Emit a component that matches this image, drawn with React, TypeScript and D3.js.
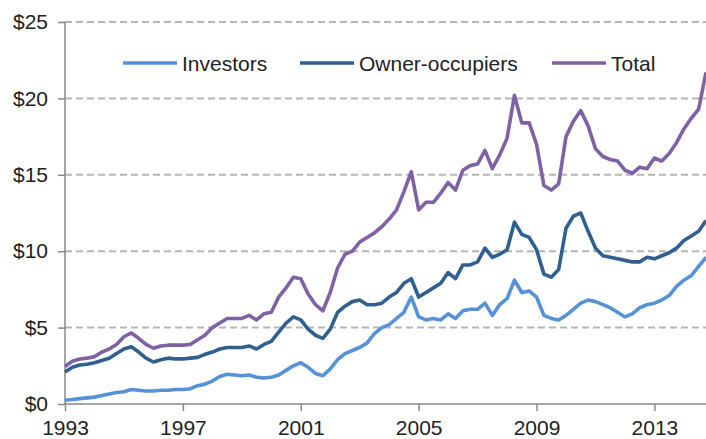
import React, { useEffect, useRef } from "react";
import * as d3 from "d3";

// quarterly, 1993 Q1 .. 2014 Q4 (values in $ billions)
const quarters: number[] = d3.range(88).map(i => 1993 + i / 4);

const investors: number[] = [
  0.25, 0.3, 0.35, 0.4,
  0.45, 0.55, 0.65, 0.75,
  0.8, 0.95, 0.9, 0.85,
  0.85, 0.9, 0.9, 0.95,
  0.95, 1.0, 1.2, 1.3,
  1.5, 1.8, 1.95, 1.9,
  1.85, 1.9, 1.75, 1.7,
  1.75, 1.9, 2.2, 2.5,
  2.7, 2.4, 2.0, 1.85,
  2.3, 2.9, 3.3, 3.5,
  3.7, 4.0, 4.6, 5.0,
  5.2, 5.6, 6.0, 7.0,
  5.7, 5.5, 5.6, 5.5,
  5.9, 5.6, 6.1, 6.2,
  6.2, 6.6, 5.8, 6.5,
  6.9, 8.1, 7.3, 7.4,
  7.0, 5.8, 5.6, 5.5,
  5.8, 6.2, 6.6, 6.8,
  6.7, 6.5, 6.3, 6.0,
  5.7, 5.9, 6.3, 6.5,
  6.6, 6.8, 7.1, 7.7,
  8.1, 8.4, 9.0, 9.6,
];

const ownerOccupiers: number[] = [
  2.1, 2.4, 2.55, 2.6,
  2.7, 2.85, 3.0, 3.3,
  3.6, 3.75, 3.4, 3.0,
  2.75, 2.9, 3.0, 2.95,
  2.95, 3.0, 3.05, 3.25,
  3.4, 3.6, 3.7, 3.7,
  3.7, 3.8, 3.6, 3.9,
  4.1, 4.7, 5.3, 5.7,
  5.5, 4.9, 4.5, 4.3,
  4.9, 6.0, 6.4, 6.7,
  6.8, 6.5, 6.5, 6.6,
  7.0, 7.3, 7.9, 8.2,
  7.0, 7.3, 7.6, 7.9,
  8.6, 8.2, 9.1, 9.1,
  9.3, 10.2, 9.6, 9.8,
  10.1, 11.9, 11.1, 10.9,
  10.1, 8.5, 8.3, 8.8,
  11.5, 12.3, 12.5, 11.3,
  10.2, 9.7, 9.6, 9.5,
  9.4, 9.3, 9.3, 9.6,
  9.5, 9.7, 9.9, 10.2,
  10.7, 11.0, 11.3, 12.0,
];

const total: number[] = [
  2.45, 2.8, 2.95, 3.0,
  3.1, 3.4, 3.6, 3.9,
  4.4, 4.65, 4.3, 3.9,
  3.65, 3.8, 3.85, 3.85,
  3.85, 3.9, 4.2, 4.5,
  5.0, 5.3, 5.6, 5.6,
  5.6, 5.8, 5.5, 5.9,
  6.0, 7.0, 7.6, 8.3,
  8.2, 7.2, 6.5, 6.1,
  7.3, 8.9, 9.8, 10.0,
  10.6, 10.9, 11.2, 11.6,
  12.1, 12.7, 13.9, 15.2,
  12.7, 13.2, 13.2, 13.8,
  14.5, 14.0, 15.3, 15.6,
  15.7, 16.6, 15.4, 16.3,
  17.4, 20.2, 18.4, 18.4,
  17.0, 14.3, 14.0, 14.4,
  17.5, 18.5, 19.2, 18.2,
  16.7, 16.2, 16.0, 15.9,
  15.3, 15.1, 15.5, 15.4,
  16.1, 15.9, 16.4, 17.1,
  18.0, 18.7, 19.3, 21.7,
];

const yTicks: number[] = [0, 5, 10, 15, 20, 25];
const xTicks: number[] = [1993, 1997, 2001, 2005, 2009, 2013];

const seriesNames: string[] = ["Investors", "Owner-occupiers", "Total"];
const seriesData: number[][] = [investors, ownerOccupiers, total];
const seriesColors: string[] = ["#5592d8", "#30608f", "#7f61a5"];

const W = 706;
const H = 439;
const FONT = "'Liberation Sans', Arial, sans-serif";

const Chart = () => {
  const svgRef = useRef<SVGSVGElement>(null);

  useEffect(() => {
    const svg = d3.select(svgRef.current);
    svg.selectAll("*").remove();

    const left = 65, right = 706, top = 22, bottom = 404;

    const x = d3.scaleLinear().domain([1993, 2014.75]).range([left, right]);
    const y = d3.scaleLinear().domain([0, 25]).range([bottom, top]);

    // dashed gridlines
    svg.append("g")
      .selectAll("line")
      .data(yTicks.filter(d => d > 0))
      .enter()
      .append("line")
      .attr("x1", left)
      .attr("x2", right)
      .attr("y1", d => y(d))
      .attr("y2", d => y(d))
      .attr("stroke", "#b5b5b5")
      .attr("stroke-width", 2)
      .attr("stroke-dasharray", "7,4");

    // y axis
    const yAxis = svg.append("g")
      .attr("transform", `translate(${left},0)`)
      .call(d3.axisLeft(y).tickValues(yTicks).tickSize(7).tickPadding(10).tickFormat(d => `$${d}`));

    // x axis
    const xAxis = svg.append("g")
      .attr("transform", `translate(0,${bottom})`)
      .call(d3.axisBottom(x).tickValues(xTicks).tickSize(7).tickPadding(9).tickFormat(d3.format("d")));

    [yAxis, xAxis].forEach(g => {
      g.select(".domain").attr("stroke", "#888").attr("stroke-width", 1.5);
      g.selectAll(".tick line").attr("stroke", "#888").attr("stroke-width", 1.5);
      g.selectAll(".tick text")
        .attr("fill", "#222")
        .style("font-family", FONT)
        .style("font-size", "21px");
    });
    xAxis.select(".domain").attr("d", `M${left},0H${right}`);
    yAxis.select(".domain").attr("d", `M0,${bottom}V${top}`);

    const line = d3.line<number>()
      .x((_, i) => x(quarters[i]))
      .y(d => y(d));

    svg.append("g")
      .selectAll("path")
      .data(seriesData)
      .enter()
      .append("path")
      .attr("d", d => line(d))
      .attr("fill", "none")
      .attr("stroke", (_, i) => seriesColors[i])
      .attr("stroke-width", 3.6)
      .attr("stroke-linejoin", "round");

    // legend
    const legendX = [123, 300, 552];
    const legend = svg.append("g")
      .selectAll("g")
      .data(seriesNames)
      .enter()
      .append("g")
      .attr("transform", (_, i) => `translate(${legendX[i]},63)`);

    legend.append("line")
      .attr("x1", 0)
      .attr("x2", 54)
      .attr("stroke", (_, i) => seriesColors[i])
      .attr("stroke-width", 3.6);

    legend.append("text")
      .attr("x", 59)
      .attr("dy", "0.36em")
      .attr("fill", "#222")
      .style("font-family", FONT)
      .style("font-size", "21px")
      .text(d => d);
  }, []);

  return <svg ref={svgRef} width={W} height={H} style={{ display: "block" }}></svg>;
};

export default function App() {
  return (
    <div style={{ position: "fixed", left: 0, top: 0, width: W, height: H, background: "#fff" }}>
      <Chart />
    </div>
  );
}
